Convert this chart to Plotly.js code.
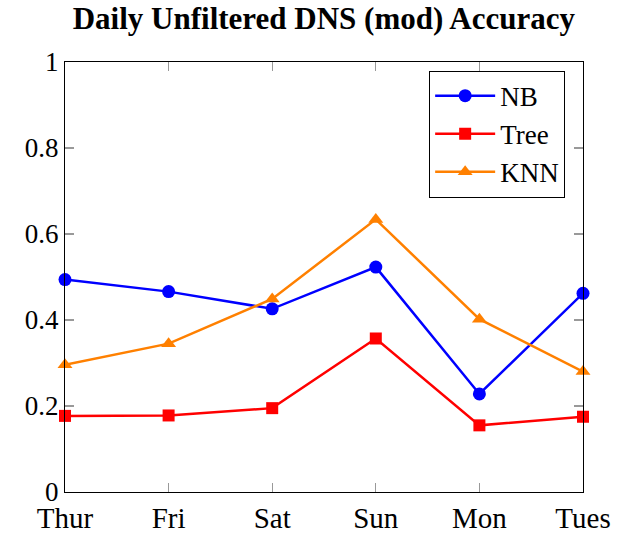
<!DOCTYPE html>
<html>
<head>
<meta charset="utf-8">
<script src="https://cdn.plot.ly/plotly-3.0.1.min.js"></script>
<style>html,body{margin:0;padding:0;background:#fff;}#chart{width:624px;height:533px;}</style>
</head>
<body>
<div id="chart"></div>
<script>
const days = ["Thur", "Fri", "Sat", "Sun", "Mon", "Tues"];
const nbAcc = [0.494, 0.466, 0.426, 0.523, 0.228, 0.462];
const treeAcc = [0.177, 0.178, 0.195, 0.357, 0.155, 0.175];
const knnAcc = [0.296, 0.345, 0.449, 0.634, 0.402, 0.280];
const yTicks = [0, 0.2, 0.4, 0.6, 0.8, 1];
const yTickLabels = ["0", "0.2", "0.4", "0.6", "0.8", "1"];

const serif = "'Liberation Serif', 'Times New Roman', Times, serif";

function series(name, y, color, symbol, size) {
  return {
    type: "scatter", mode: "lines+markers", name: name,
    x: days, y: y, cliponaxis: false,
    line: {color: color, width: 2.5},
    marker: {color: color, symbol: symbol, size: size}
  };
}

const data = [
  series("NB", nbAcc, "#0000ff", "circle", 13),
  series("Tree", treeAcc, "#ff0000", "square", 12),
  series("KNN", knnAcc, "#ff8000", "triangle-up", 13)
];

const layout = {
  width: 624, height: 533,
  margin: {l: 65, r: 41, t: 62, b: 41},
  paper_bgcolor: "#fff", plot_bgcolor: "#fff",
  font: {family: serif, color: "#000", size: 28},
  title: {text: "<b>Daily Unfiltered DNS (mod) Accuracy</b>", font: {family: serif, size: 31, color: "#000"},
          x: 0.519, xanchor: "center", y: 0.966, yanchor: "middle"},
  showlegend: true,
  legend: {x: 0.703, y: 0.98, xanchor: "left", yanchor: "top",
           bordercolor: "#000", borderwidth: 1, bgcolor: "#fff",
           itemwidth: 60,
           font: {family: serif, size: 27, color: "#000"}, tracegroupgap: 0},
  xaxis: {
    type: "category", range: [0, 5], showgrid: false, zeroline: false,
    showline: true, linecolor: "#000", linewidth: 1.2, mirror: "ticks",
    ticks: "inside", ticklen: 9, tickwidth: 1.2, tickcolor: "#999",
    ticklabelstandoff: 0,
    tickfont: {family: serif, size: 29, color: "#000"}
  },
  yaxis: {
    range: [0, 1], showgrid: false, zeroline: false,
    showline: true, linecolor: "#000", linewidth: 1.2, mirror: "ticks",
    ticks: "inside", ticklen: 9, tickwidth: 1.2, tickcolor: "#999",
    tickmode: "array", tickvals: yTicks, ticktext: yTickLabels,
    tickfont: {family: serif, size: 27, color: "#000"}
  }
};

Plotly.newPlot("chart", data, layout, {displayModeBar: false, staticPlot: true});
</script>
</body>
</html>
